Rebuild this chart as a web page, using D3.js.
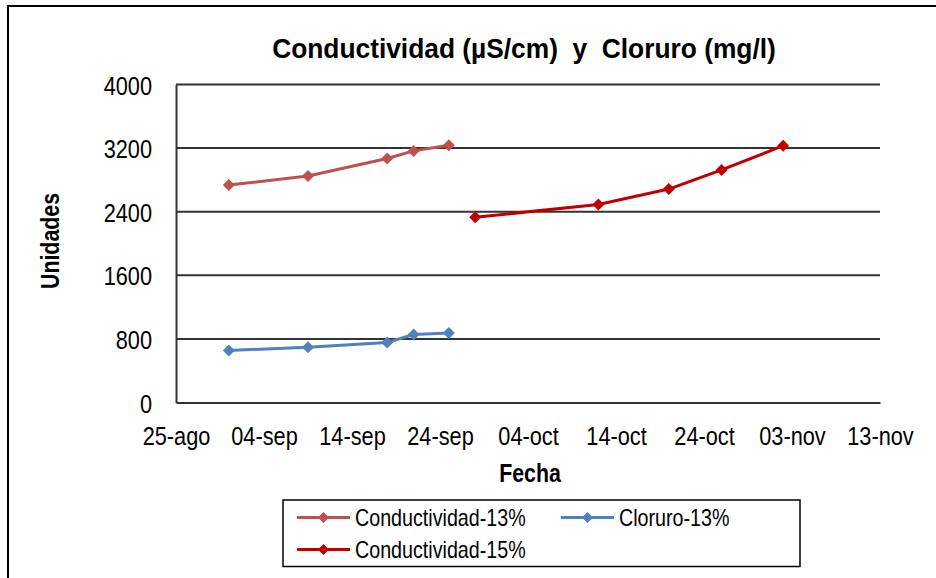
<!DOCTYPE html>
<html>
<head>
<meta charset="utf-8">
<script src="https://cdn.jsdelivr.net/npm/d3@7"></script>
<style>
  html, body { margin: 0; padding: 0; background: #fff; }
  svg { display: block; }
  text { font-family: "Liberation Sans", Arial, sans-serif; fill: #000; }
</style>
</head>
<body>
<div id="chart"></div>
<script>
// Sampling dates and measurements
const datesSerie13 = ["2013-08-31", "2013-09-09", "2013-09-18", "2013-09-21", "2013-09-25"];
const conductividad13 = [2735, 2850, 3070, 3165, 3235];
const cloruro13 = [655, 695, 755, 855, 875];

const datesSerie15 = ["2013-09-28", "2013-10-12", "2013-10-20", "2013-10-26", "2013-11-02"];
const conductividad15 = [2330, 2490, 2685, 2925, 3230];

const xTickDates = ["2013-08-25", "2013-09-04", "2013-09-14", "2013-09-24", "2013-10-04",
                    "2013-10-14", "2013-10-24", "2013-11-03", "2013-11-13"];
const yTicks = [0, 800, 1600, 2400, 3200, 4000];

const seriesNames = ["Conductividad-13%", "Cloruro-13%", "Conductividad-15%"];
const seriesColors = ["#C0504D", "#4F81BD", "#C00000"];

const W = 936, H = 578;
const margin = { left: 176, right: 56, top: 84.5, bottom: 175.5 };

const parse = d3.utcParse("%Y-%m-%d");
const es = d3.timeFormatLocale({
  dateTime: "%A, %e de %B de %Y, %X", date: "%d/%m/%Y", time: "%H:%M:%S",
  periods: ["AM", "PM"],
  days: ["domingo", "lunes", "martes", "miércoles", "jueves", "viernes", "sábado"],
  shortDays: ["dom", "lun", "mar", "mié", "jue", "vie", "sáb"],
  months: ["enero", "febrero", "marzo", "abril", "mayo", "junio", "julio", "agosto",
           "septiembre", "octubre", "noviembre", "diciembre"],
  shortMonths: ["ene", "feb", "mar", "abr", "may", "jun", "jul", "ago", "sep", "oct", "nov", "dic"]
});
const fmtDate = es.utcFormat("%d-%b");

// Narrow face look: squeeze each label horizontally by a factor
function condense(sel, factor) {
  sel.each(function () {
    const w = this.getComputedTextLength();
    d3.select(this).attr("textLength", w * factor).attr("lengthAdjust", "spacingAndGlyphs");
  });
  return sel;
}
const NARROW = 0.82;

const series = [
  { name: seriesNames[0], color: seriesColors[0], dates: datesSerie13, values: conductividad13 },
  { name: seriesNames[1], color: seriesColors[1], dates: datesSerie13, values: cloruro13 },
  { name: seriesNames[2], color: seriesColors[2], dates: datesSerie15, values: conductividad15 }
].map(s => ({ ...s, points: s.dates.map((d, i) => ({ date: parse(d), value: s.values[i] })) }));

const svg = d3.select("#chart").append("svg").attr("width", W).attr("height", H);
svg.append("rect").attr("width", W).attr("height", H).attr("fill", "#fff");

// Chart frame
svg.append("path").attr("d", `M8,${H}V6H${W}`).attr("fill", "none")
  .attr("stroke", "#000").attr("stroke-width", 2);

const x = d3.scaleUtc()
  .domain([parse(xTickDates[0]), parse(xTickDates[xTickDates.length - 1])])
  .range([margin.left, W - margin.right]);
const y = d3.scaleLinear().domain([0, 4000]).range([H - margin.bottom, margin.top]);

// Horizontal gridlines
svg.append("g").selectAll("line").data(yTicks.slice(1)).join("line")
  .attr("x1", margin.left).attr("x2", W - margin.right)
  .attr("y1", d => y(d)).attr("y2", d => y(d))
  .attr("stroke", "#333").attr("stroke-width", 2);

// Y axis
const yAxis = svg.append("g").attr("transform", `translate(${margin.left},0)`)
  .call(d3.axisLeft(y).tickValues(yTicks).tickSize(0).tickPadding(24).tickFormat(d3.format("d")));
yAxis.select(".domain").attr("stroke", "#333").attr("stroke-width", 2);
yAxis.selectAll("text").attr("font-size", 26.5).attr("font-family", null).attr("dy", "0.36em")
  .call(condense, NARROW);

// X axis
const xAxis = svg.append("g").attr("transform", `translate(0,${H - margin.bottom})`)
  .call(d3.axisBottom(x).tickValues(xTickDates.map(parse)).tickSize(0).tickPadding(24).tickFormat(fmtDate));
xAxis.select(".domain").attr("stroke", "#333").attr("stroke-width", 2);
xAxis.selectAll("text").attr("font-size", 26.5).attr("font-family", null).attr("dy", "0.71em")
  .call(condense, NARROW);

// Titles
svg.append("text").attr("x", 524).attr("y", 57.5).attr("text-anchor", "middle")
  .attr("font-size", 28).attr("font-weight", "bold").style("white-space", "pre")
  .text("Conductividad (µS/cm)  y  Cloruro (mg/l)")
  .call(condense, 0.94);
svg.append("text").attr("x", 530).attr("y", 482).attr("text-anchor", "middle")
  .attr("font-size", 26).attr("font-weight", "bold").text("Fecha")
  .call(condense, NARROW);
svg.append("text").attr("transform", "translate(59,241) rotate(-90)").attr("text-anchor", "middle")
  .attr("font-size", 26).attr("font-weight", "bold").text("Unidades")
  .call(condense, NARROW);

// Series
const diamond = r => `M0,${-r}L${r},0L0,${r}L${-r},0Z`;
const line = d3.line().x(d => x(d.date)).y(d => y(d.value));
const gS = svg.append("g");
series.forEach(s => {
  gS.append("path").datum(s.points).attr("d", line).attr("fill", "none")
    .attr("stroke", s.color).attr("stroke-width", 3).attr("stroke-linejoin", "round");
  gS.append("g").selectAll("path").data(s.points).join("path")
    .attr("transform", d => `translate(${x(d.date)},${y(d.value)})`)
    .attr("d", diamond(6)).attr("fill", s.color);
});

// Legend
const lg = svg.append("g");
lg.append("rect").attr("x", 283).attr("y", 500).attr("width", 517).attr("height", 66.5)
  .attr("fill", "#fff").attr("stroke", "#000").attr("stroke-width", 1.5);
const legendPos = [{ x: 297, y: 517.5 }, { x: 561, y: 517.5 }, { x: 297, y: 549.5 }];
series.forEach((s, i) => {
  const p = legendPos[i];
  const g = lg.append("g").attr("transform", `translate(${p.x},${p.y})`);
  g.append("line").attr("x1", 0).attr("x2", 53).attr("stroke", s.color).attr("stroke-width", 3);
  g.append("path").attr("transform", "translate(26.5,0)").attr("d", diamond(5.5)).attr("fill", s.color);
  g.append("text").attr("x", 58).attr("dy", "0.36em").attr("font-size", 24).text(s.name)
    .call(condense, NARROW);
});
</script>
</body>
</html>
